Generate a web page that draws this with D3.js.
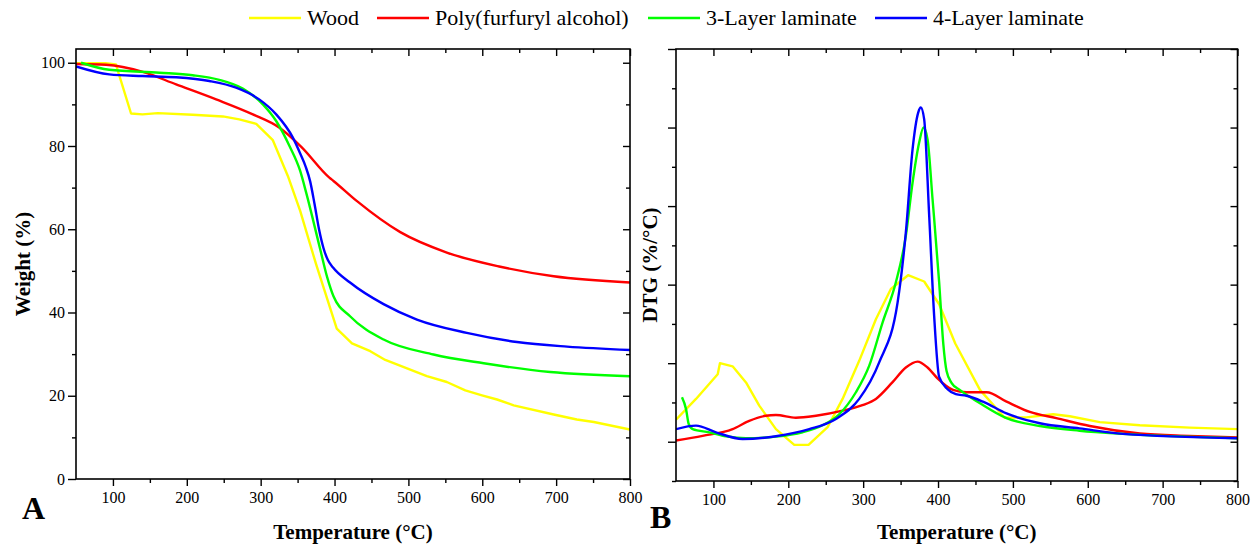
<!DOCTYPE html>
<html>
<head>
<meta charset="utf-8">
<script src="https://cdn.jsdelivr.net/npm/d3@7"></script>
<style>
  html, body { margin: 0; padding: 0; background: #fff; }
  svg { display: block; }
  text { font-family: "Liberation Serif", "Times New Roman", serif; fill: #000; }
</style>
</head>
<body>
<svg id="chart" width="1257" height="546"></svg>
<script>
// ---- Data -------------------------------------------------------------
const seriesNames = ["Wood", "Poly(furfuryl alcohol)", "3-Layer laminate", "4-Layer laminate"];
const seriesColors = ["#ffff00", "#ff0000", "#00ff00", "#0000ff"];
const xTickLabels = [100, 200, 300, 400, 500, 600, 700, 800];
const weightTickLabels = [0, 20, 40, 60, 80, 100];

// TG curves: [temperature °C, weight %]
const woodTG = [[50,99.9],[90,99.9],[104,99.6],[124.5,87.8],[140,87.6],[160.7,87.9],[208,87.5],[248.8,87.1],[271,86.4],[294,85.3],[316.5,81.4],[336.8,72.8],[353.5,64.4],[375,51.6],[403,36.1],[423.6,32.6],[448.4,30.7],[468.7,28.6],[525,24.7],[552,23.3],[577,21.3],[599.6,20.1],[620,19.1],[642.5,17.7],[696.7,15.5],[728,14.3],[751,13.7],[800,11.9]];
const pfaTG = [[50,99.7],[90.6,99.5],[140.4,97.8],[185.5,94.8],[239.7,91.2],[289.4,87.6],[325.5,84.4],[355,79.8],[393,72.4],[398.6,71.6],[430,66.8],[489,59.3],[552,54.4],[624.5,51.0],[696.7,48.7],[800,47.2]];
const layer3TG = [[56.8,100],[95,98.3],[163,97.6],[208,97.0],[244,95.9],[275.7,93.8],[303,90.0],[321,86.0],[339,80.0],[353.5,74.0],[361.6,68.8],[380.6,55.2],[390,48.5],[398.6,43.9],[421,39.1],[466.4,33.5],[534,29.9],[602,27.8],[692,25.7],[800,24.7]];
const layer4TG = [[50,99.1],[95,97.2],[140,96.8],[185.5,96.5],[230.6,95.6],[266.8,94.0],[298,91.2],[321,87.6],[343.6,82.0],[353.5,78.2],[361,75.0],[367,71.5],[373,66.0],[379,60.0],[385,55.5],[391,52.6],[398,50.8],[421,47.2],[466.4,42.0],[511.5,38.3],[579,35.1],[647,32.9],[714.8,31.8],[800,31.0]];

// DTG curves: [temperature °C, DTG %/°C]
const woodDTG = [[50,0.056],[76.7,0.109],[105.7,0.172],[108.7,0.200],[125.6,0.192],[143.5,0.151],[161.2,0.092],[183.5,0.032],[208,-0.008],[227,-0.008],[252.5,0.037],[272.5,0.109],[294.7,0.206],[317,0.312],[337,0.389],[360,0.424],[381.5,0.408],[401.5,0.350],[423,0.250],[456,0.132],[489,0.061],[518,0.062],[553.7,0.070],[576,0.065],[616,0.050],[669.5,0.042],[736,0.036],[800,0.032]];
const pfaDTG = [[50,0.003],[85.6,0.015],[125.6,0.032],[147.8,0.053],[170,0.066],[183.5,0.068],[210,0.061],[237,0.066],[272.5,0.079],[299,0.093],[317,0.109],[339,0.151],[357,0.189],[372.7,0.204],[386,0.189],[400,0.160],[420,0.132],[438,0.126],[465,0.126],[491.5,0.102],[522.6,0.076],[558,0.060],[602.7,0.040],[669.5,0.021],[736,0.015],[800,0.011]];
const layer3DTG = [[58,0.113],[63.4,0.083],[67,0.045],[72.3,0.032],[94.5,0.024],[116.8,0.014],[143.5,0.009],[183.5,0.013],[219,0.024],[245.8,0.042],[268,0.070],[290.3,0.126],[308,0.193],[326,0.304],[343.7,0.406],[357,0.524],[366,0.660],[374.8,0.762],[380.7,0.800],[386,0.770],[392.7,0.617],[401.5,0.406],[407,0.250],[411.4,0.180],[418,0.150],[429,0.132],[456,0.098],[491.5,0.060],[536,0.040],[589,0.028],[647,0.020],[800,0.009]];
const layer4DTG = [[50,0.032],[76.7,0.041],[103.4,0.024],[139,0.007],[183.5,0.014],[228,0.032],[263.6,0.058],[294.7,0.109],[321.4,0.202],[346,0.355],[357,0.533],[366,0.745],[373.5,0.838],[377,0.851],[381.5,0.821],[388.2,0.575],[394.8,0.321],[401.5,0.165],[412.7,0.134],[423.8,0.121],[438,0.117],[460,0.102],[491.5,0.072],[536,0.047],[589,0.034],[647,0.020],[800,0.009]];

const tgSeries = [woodTG, pfaTG, layer3TG, layer4TG];
const dtgSeries = [woodDTG, pfaDTG, layer3DTG, layer4DTG];
const seriesCurves = [d3.curveLinear, d3.curveMonotoneX, d3.curveMonotoneX, d3.curveMonotoneX];

// ---- Layout -----------------------------------------------------------
const svg = d3.select("#chart");
const tickFont = 16;

function drawPanel(opts) {
  const { x, y, id, series, yTicks, yMinor, showYLabels, xTitle, yTitle, yTitleX, letter, letterPos } = opts;
  const [x0, x1] = x.range();
  const [y0, y1] = y.range(); // y0 bottom, y1 top
  const g = svg.append("g");

  g.append("clipPath").attr("id", id).append("rect")
    .attr("x", x0).attr("y", y1).attr("width", x1 - x0).attr("height", y0 - y1);

  const lines = g.append("g").attr("clip-path", `url(#${id})`);
  series.forEach((data, i) => {
    lines.append("path")
      .datum(data)
      .attr("fill", "none")
      .attr("stroke", seriesColors[i])
      .attr("stroke-width", 2.4)
      .attr("stroke-linejoin", "round")
      .attr("d", d3.line().x(d => x(d[0])).y(d => y(d[1])).curve(seriesCurves[i]));
  });

  const xMajor = d3.range(100, 801, 100);
  const xMinor = d3.range(150, 751, 100);

  // bottom axis: outward ticks with labels
  const bottom = g.append("g").attr("transform", `translate(0,${y0})`)
    .call(d3.axisBottom(x).tickValues(xMajor).tickSize(7).tickPadding(6).tickFormat((d, i) => xTickLabels[i]));
  bottom.append("g").call(d3.axisBottom(x).tickValues(xMinor).tickSize(4).tickFormat(""));
  // top axis: inward ticks
  const top = g.append("g").attr("transform", `translate(0,${y1})`)
    .call(d3.axisBottom(x).tickValues(xMajor).tickSize(7).tickFormat(""));
  top.append("g").call(d3.axisBottom(x).tickValues(xMinor).tickSize(4).tickFormat(""));

  // left axis: outward ticks
  const left = g.append("g").attr("transform", `translate(${x0},0)`)
    .call(d3.axisLeft(y).tickValues(yTicks).tickSize(8).tickPadding(3)
      .tickFormat(showYLabels ? ((d, i) => weightTickLabels[i]) : ""));
  left.append("g").call(d3.axisLeft(y).tickValues(yMinor).tickSize(4).tickFormat(""));
  // right axis: inward ticks
  const right = g.append("g").attr("transform", `translate(${x1},0)`)
    .call(d3.axisLeft(y).tickValues(yTicks).tickSize(7).tickFormat(""));
  right.append("g").call(d3.axisLeft(y).tickValues(yMinor).tickSize(4).tickFormat(""));

  [bottom, top, left, right].forEach(a => {
    a.selectAll(".domain").remove();
    a.selectAll("line").attr("stroke", "#000").attr("stroke-width", 1.4);
    a.selectAll("text").attr("font-size", tickFont)
      .attr("font-family", "Liberation Serif, Times New Roman, serif").attr("fill", "#000");
  });

  // frame
  g.append("rect")
    .attr("x", x0).attr("y", y1).attr("width", x1 - x0).attr("height", y0 - y1)
    .attr("fill", "none").attr("stroke", "#000").attr("stroke-width", 1.6);

  g.append("text")
    .attr("x", (x0 + x1) / 2).attr("y", 539)
    .attr("text-anchor", "middle").attr("font-size", 21).attr("font-weight", "bold")
    .text(xTitle);

  g.append("text")
    .attr("transform", `translate(${yTitleX},${(y0 + y1) / 2}) rotate(-90)`)
    .attr("text-anchor", "middle").attr("font-size", 21).attr("font-weight", "bold")
    .text(yTitle);

  g.append("text")
    .attr("x", letterPos[0]).attr("y", letterPos[1])
    .attr("font-size", 32).attr("font-weight", "bold")
    .text(letter);
}

// Panel A: weight loss
const xA = d3.scaleLinear().domain([50, 800]).range([76, 630]);
const yA = d3.scaleLinear().domain([0, 103.3]).range([479, 49]);
drawPanel({
  x: xA, y: yA, id: "clipA", series: tgSeries,
  yTicks: [0, 20, 40, 60, 80, 100], yMinor: [10, 30, 50, 70, 90],
  showYLabels: true,
  xTitle: "Temperature (°C)", yTitle: "Weight (%)", yTitleX: 30,
  letter: "A", letterPos: [22, 519]
});

// Panel B: derivative weight loss
const xB = d3.scaleLinear().domain([50, 800]).range([676, 1237.5]);
const yB = d3.scaleLinear().domain([-0.1, 1.0]).range([481, 49]);
drawPanel({
  x: xB, y: yB, id: "clipB", series: dtgSeries,
  yTicks: [0, 0.2, 0.4, 0.6, 0.8, 1.0], yMinor: [-0.1, 0.1, 0.3, 0.5, 0.7, 0.9],
  showYLabels: false,
  xTitle: "Temperature (°C)", yTitle: "DTG (%/°C)", yTitleX: 657,
  letter: "B", letterPos: [650, 528]
});

// Legend
const legendX = [249, 377, 648, 875];
const legend = svg.append("g");
seriesNames.forEach((name, i) => {
  const item = legend.append("g").attr("transform", `translate(${legendX[i]},18)`);
  item.append("line").attr("x1", 0).attr("x2", 52).attr("y1", 0).attr("y2", 0)
    .attr("stroke", seriesColors[i]).attr("stroke-width", 2.4);
  item.append("text").attr("x", 58).attr("y", 7).attr("font-size", 22).text(name);
});
</script>
</body>
</html>
